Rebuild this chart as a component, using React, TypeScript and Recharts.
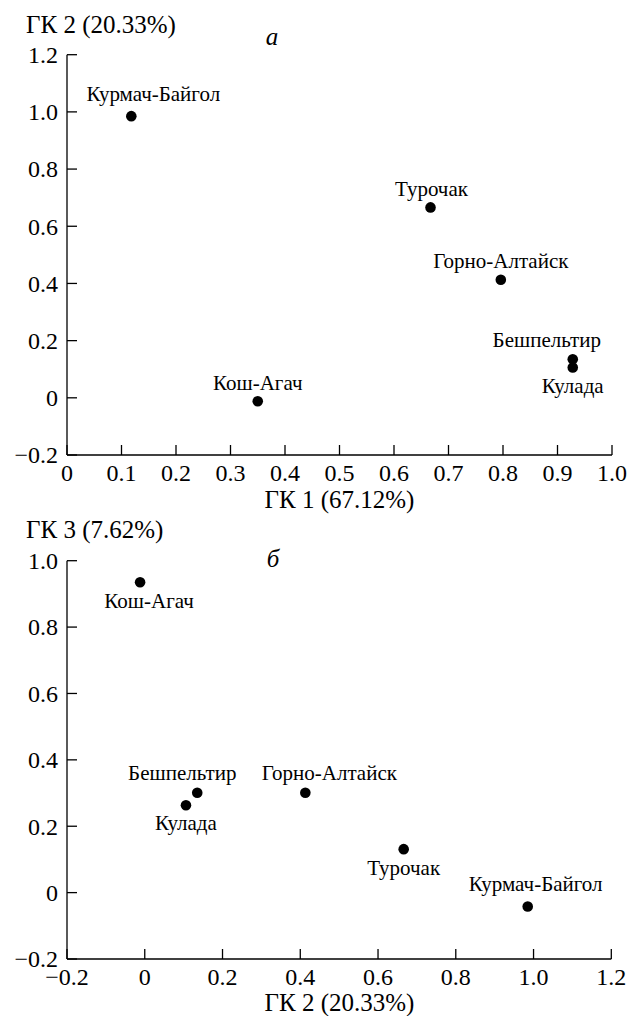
import React from 'react';
import { ScatterChart, Scatter, XAxis, YAxis } from 'recharts';

// site scores on the first three principal components (ГК)
const sites = ['Курмач-Байгол', 'Турочак', 'Горно-Алтайск', 'Бешпельтир', 'Кулада', 'Кош-Агач'];
const pc1 = [0.118, 0.667, 0.796, 0.928, 0.928, 0.35];
const pc2 = [0.985, 0.666, 0.413, 0.135, 0.106, -0.012];
const pc3 = [-0.042, 0.131, 0.301, 0.301, 0.263, 0.935];

const pc1Ticks = [0, 0.1, 0.2, 0.3, 0.4, 0.5, 0.6, 0.7, 0.8, 0.9, 1.0];
const pc2Ticks = [-0.2, 0, 0.2, 0.4, 0.6, 0.8, 1.0, 1.2];
const pc3Ticks = [-0.2, 0, 0.2, 0.4, 0.6, 0.8, 1.0];

// label offsets from the dot (dx, dy), per panel
const labelsA: Record<string, [number, number]> = {
  'Курмач-Байгол': [22, -23],
  'Турочак': [1, -19],
  'Горно-Алтайск': [0, -19],
  'Бешпельтир': [-26, -20],
  'Кулада': [0, 18],
  'Кош-Агач': [0, -19],
};
const labelsB: Record<string, [number, number]> = {
  'Курмач-Байгол': [8, -23],
  'Турочак': [0, 19],
  'Горно-Алтайск': [24, -20],
  'Бешпельтир': [-15, -20],
  'Кулада': [0, 17],
  'Кош-Агач': [9, 18],
};

const dataA = sites.map((name, i) => ({ name, x: pc1[i], y: pc2[i] }));
const dataB = sites.map((name, i) => ({ name, x: pc2[i], y: pc3[i] }));

const FONT = '"Liberation Serif", "DejaVu Serif", "Times New Roman", Times, serif';
const serif = { fontFamily: FONT };

const fmt = (v: number) => (v === 0 ? '0' : v.toFixed(1).replace('-', '\u2212'));

const XTick = (props: any) => {
  const { x, y, payload } = props;
  return (
    <g>
      <line x1={x} y1={y} x2={x} y2={y - 10} stroke="#000" strokeWidth={1.3} />
      <text x={x} y={y + 25.5} textAnchor="middle" fontSize={24} style={serif} fill="#000">
        {fmt(payload.value)}
      </text>
    </g>
  );
};

const YTick = (props: any) => {
  const { x, y, payload } = props;
  return (
    <g>
      <line x1={x} y1={y} x2={x + 10} y2={y} stroke="#000" strokeWidth={1.3} />
      <text x={x - 9} y={y} dy="0.35em" textAnchor="end" fontSize={24} style={serif} fill="#000">
        {fmt(payload.value)}
      </text>
    </g>
  );
};

const makeDot = (labels: Record<string, [number, number]>) => (props: any) => {
  const { cx, cy, payload } = props;
  const [dx, dy] = labels[payload.name] || [0, -18];
  return (
    <g>
      <circle cx={cx} cy={cy} r={5.3} fill="#000" />
      <text x={cx + dx} y={cy + dy} dy="0.35em" textAnchor="middle" fontSize={21} style={serif} fill="#000">
        {payload.name}
      </text>
    </g>
  );
};

const axisLine = { stroke: '#000', strokeWidth: 1.3 };

export default function App() {
  return (
    <div style={{ position: 'absolute', left: 0, top: 0, width: 630, height: 1016, background: '#fff', fontFamily: FONT }}>
      <div style={{ position: 'absolute', left: 0, top: 0 }}>
        <ScatterChart width={630} height={520} margin={{ top: 54.7, right: 18, bottom: 35, left: 27 }}>
          <XAxis
            type="number"
            dataKey="x"
            domain={[0, 1]}
            ticks={pc1Ticks}
            interval={0}
            height={30}
            tickSize={0}
            tickMargin={0}
            tickLine={false}
            axisLine={axisLine}
            tick={<XTick />}
          />
          <YAxis
            type="number"
            dataKey="y"
            domain={[-0.2, 1.2]}
            ticks={pc2Ticks}
            interval={0}
            width={40}
            tickSize={0}
            tickMargin={0}
            tickLine={false}
            axisLine={axisLine}
            tick={<YTick />}
          />
          <Scatter data={dataA} shape={makeDot(labelsA)} isAnimationActive={false} />
          <text x={26} y={33} fontSize={25} style={serif}>ГК 2 (20.33%)</text>
          <text x={272} y={45} fontSize={25} fontStyle="italic" textAnchor="middle" style={serif}>а</text>
          <text x={339.5} y={508} fontSize={25} textAnchor="middle" style={serif}>ГК 1 (67.12%)</text>
        </ScatterChart>
      </div>
      <div style={{ position: 'absolute', left: 0, top: 508 }}>
        <ScatterChart width={630} height={508} margin={{ top: 52.7, right: 18.7, bottom: 27, left: 27 }}>
          <XAxis
            type="number"
            dataKey="x"
            domain={[-0.2, 1.2]}
            ticks={pc2Ticks}
            interval={0}
            height={30}
            tickSize={0}
            tickMargin={0}
            tickLine={false}
            axisLine={axisLine}
            tick={<XTick />}
          />
          <YAxis
            type="number"
            dataKey="y"
            domain={[-0.2, 1.0]}
            ticks={pc3Ticks}
            interval={0}
            width={40}
            tickSize={0}
            tickMargin={0}
            tickLine={false}
            axisLine={axisLine}
            tick={<YTick />}
          />
          <Scatter data={dataB} shape={makeDot(labelsB)} isAnimationActive={false} />
          <text x={26} y={30} fontSize={25} style={serif}>ГК 3 (7.62%)</text>
          <text x={273} y={59} fontSize={25} fontStyle="italic" textAnchor="middle" style={serif}>б</text>
          <text x={339.5} y={503} fontSize={25} textAnchor="middle" style={serif}>ГК 2 (20.33%)</text>
        </ScatterChart>
      </div>
    </div>
  );
}
